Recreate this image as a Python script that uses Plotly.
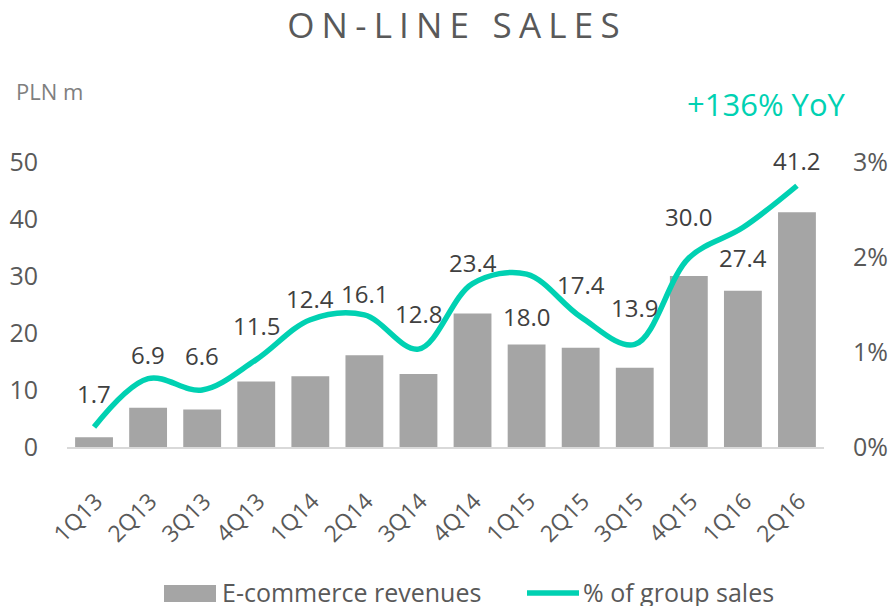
import plotly.graph_objects as go

quarters = ["1Q13", "2Q13", "3Q13", "4Q13", "1Q14", "2Q14", "3Q14", "4Q14",
            "1Q15", "2Q15", "3Q15", "4Q15", "1Q16", "2Q16"]
revenues = [1.7, 6.9, 6.6, 11.5, 12.4, 16.1, 12.8, 23.4, 18.0, 17.4, 13.9, 30.0, 27.4, 41.2]
share_pct = [0.21, 0.72, 0.60, 0.92, 1.34, 1.39, 1.03, 1.72, 1.82, 1.37, 1.08, 1.99, 2.31, 2.75]
left_ticks = [0, 10, 20, 30, 40, 50]
right_ticks = [0, 1, 2, 3]
right_tick_text = ["0%", "1%", "2%", "3%"]
series_names = ["E-commerce revenues", "% of group sales"]

# label offsets above bar tops (pixels) - positioning only
label_lift_px = [44, 53, 54, 56, 78, 62, 61, 51, 28, 63, 60, 60, 33, 52]

FONT = "Open Sans, sans-serif"
GRAY_TXT = "#595959"
BAR = "#a5a5a5"
TEAL = "#00d1b2"

# plot area in pixels
L, R, T, B = 67, 824, 162, 447
W, H = 889, 608


def px_x(x):
    return (x - L) / (R - L)


def px_y(y):
    return (B - y) / (B - T)


fig = go.Figure()
fig.add_trace(go.Bar(x=quarters, y=revenues, name=series_names[0],
                     marker=dict(color=BAR, line=dict(width=0)), yaxis="y",
                     showlegend=False))
fig.add_trace(go.Scatter(x=quarters, y=share_pct, name=series_names[1], mode="lines",
                         line=dict(color=TEAL, width=5.5, shape="spline", smoothing=1.0),
                         yaxis="y2", showlegend=False))

for q, v, lift in zip(quarters, revenues, label_lift_px):
    fig.add_annotation(x=q, y=v, xref="x", yref="y", text=f"{v:.1f}", showarrow=False,
                       yanchor="middle", yshift=lift,
                       font=dict(family=FONT, size=24, color="#404040"))

fig.add_annotation(xref="paper", yref="paper", x=px_x(14), y=px_y(91), xanchor="left",
                   yanchor="middle", text="PLN m", showarrow=False,
                   font=dict(family=FONT, size=22, color="#7f7f7f"))
fig.add_annotation(xref="paper", yref="paper", x=px_x(766), y=px_y(104),
                   xanchor="center", yanchor="middle", text="+136% YoY", showarrow=False,
                   font=dict(family=FONT, size=31, color=TEAL))

# legend (drawn at the bottom)
fig.add_shape(type="rect", xref="paper", yref="paper", x0=px_x(164), x1=px_x(216),
              y0=px_y(602), y1=px_y(585), fillcolor=BAR, line=dict(width=0))
fig.add_annotation(xref="paper", yref="paper", x=px_x(220), y=px_y(592), xanchor="left",
                   yanchor="middle", text=series_names[0], showarrow=False, height=28,
                   font=dict(family=FONT, size=25, color=GRAY_TXT))
fig.add_shape(type="line", xref="paper", yref="paper", x0=px_x(527), x1=px_x(579),
              y0=px_y(593), y1=px_y(593), line=dict(color=TEAL, width=5.5))
fig.add_annotation(xref="paper", yref="paper", x=px_x(581), y=px_y(592), xanchor="left",
                   yanchor="middle", text=series_names[1], showarrow=False, height=28,
                   font=dict(family=FONT, size=25, color=GRAY_TXT))

fig.update_layout(
    width=W, height=H,
    margin=dict(l=L, r=W - R, t=T, b=H - B, autoexpand=False),
    paper_bgcolor="white", plot_bgcolor="white",
    title=dict(text="ON-LINE SALES", xref="container", yref="container",
               x=457 / W, y=1 - 26 / H, xanchor="center", yanchor="middle",
               font=dict(family=FONT, size=35, color=GRAY_TXT)),
    bargap=0.3,
    showlegend=False,
    xaxis=dict(showline=True, linecolor="#d9d9d9", linewidth=1.5, showgrid=False,
               ticks="", tickangle=-45, ticklabelstandoff=30, ticklabelshift=2,
               automargin=False,
               tickfont=dict(family=FONT, size=23, color=GRAY_TXT)),
    yaxis=dict(range=[0, 50], tickvals=left_ticks, showgrid=False, zeroline=False,
               showline=False, ticks="", ticklabelstandoff=28, automargin=False,
               tickfont=dict(family=FONT, size=25, color=GRAY_TXT)),
    yaxis2=dict(range=[0, 3], tickvals=right_ticks, ticktext=right_tick_text, overlaying="y",
                side="right", showgrid=False, zeroline=False, showline=False, ticks="",
                ticklabelstandoff=28, automargin=False,
                tickfont=dict(family=FONT, size=25, color=GRAY_TXT)),
)

post = """
document.body.style.margin = '0';
document.querySelectorAll('.gtitle').forEach(function(e){ e.style.letterSpacing = '7.2px'; });
"""
fig.write_html("out.html", post_script=post, config={"displayModeBar": False})
